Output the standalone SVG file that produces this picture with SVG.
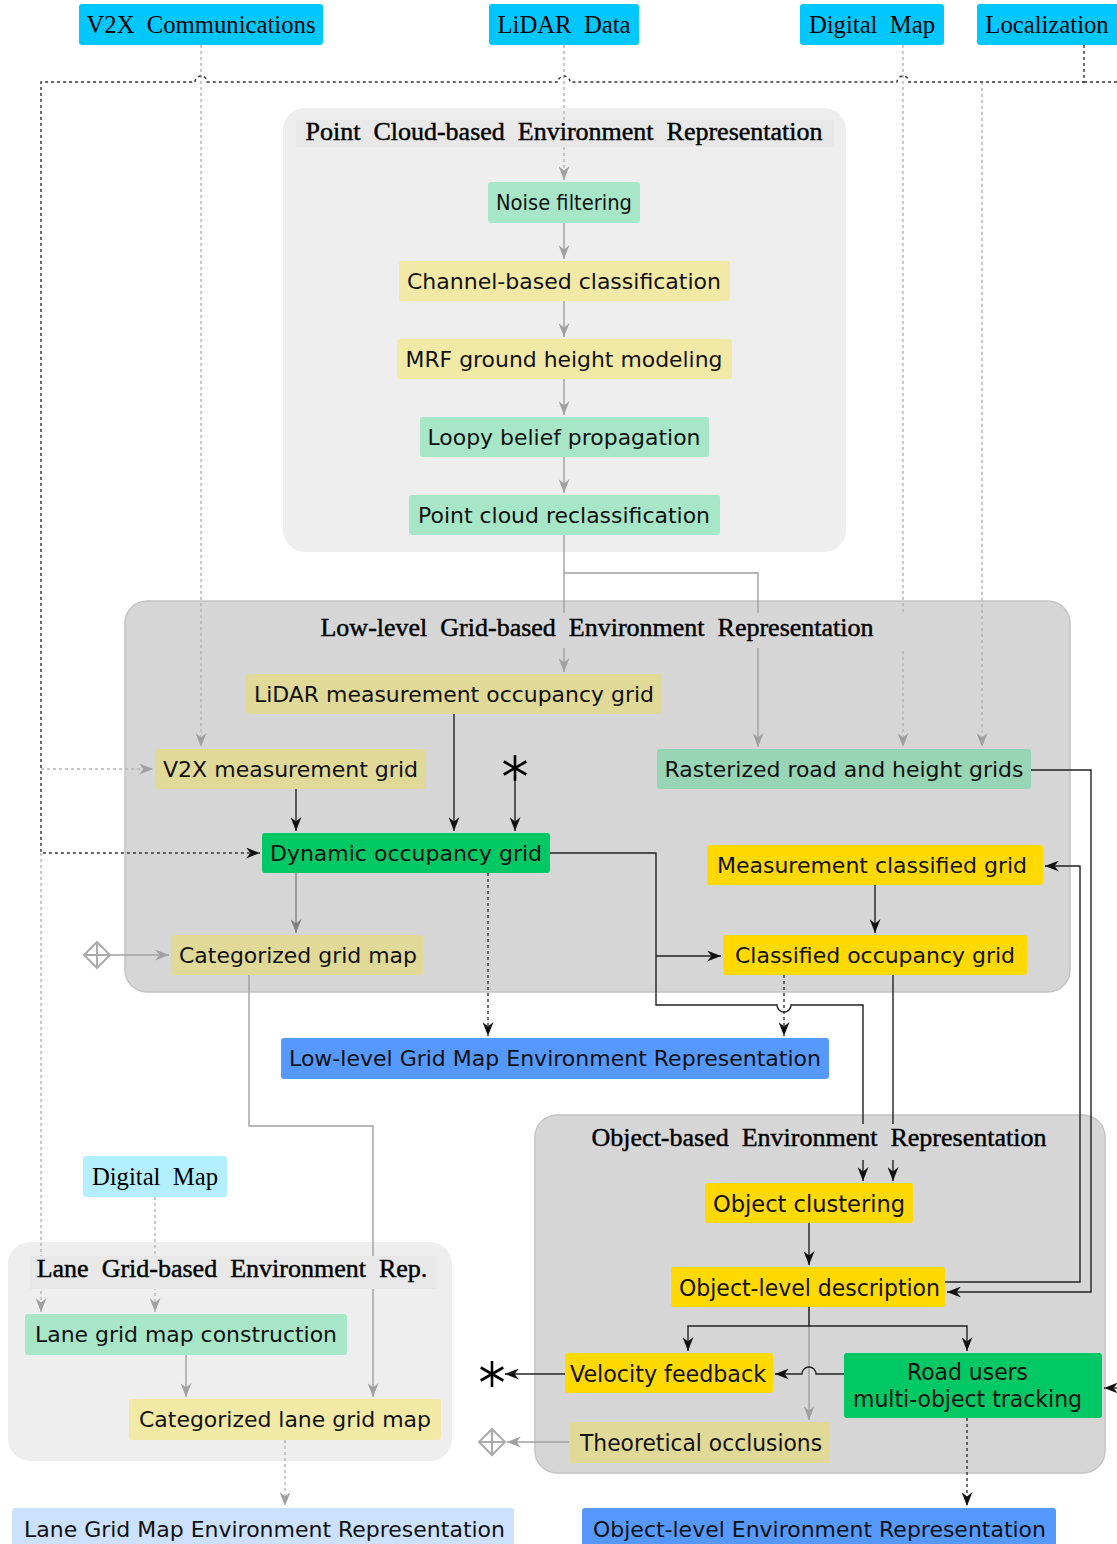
<svg xmlns="http://www.w3.org/2000/svg" width="1117" height="1544" viewBox="0 0 1117 1544">
<defs>
<style>
.serif{font-family:"Liberation Serif","Times New Roman",serif;fill:#000;text-anchor:middle;white-space:pre}
.tt{font-size:26px;stroke:#000;stroke-width:0.45}
.src{font-size:24.7px}
.sans{font-family:"DejaVu Sans","Noto Sans",sans-serif;fill:#111;text-anchor:middle}
.s1{font-size:20.5px}
.s2{font-size:23.5px}
.s3{font-size:22px}
.cn{fill:none;stroke-width:1.4}
.blk{stroke:#222}
.gry{stroke:#a0a0a0}
.dgr{stroke:#808080}
.ddash{stroke:#333;stroke-dasharray:3 3}
.ldash{stroke:#b4b4b4;stroke-dasharray:3 3}
.cyan{fill:#00c8ff}
.lgreen{fill:#a8e6c8}
.pyel{fill:#f3e9a6}
.khaki{fill:#e1d998}
.mgreen{fill:#98d5b5}
.bgreen{fill:#00c865}
.gold{fill:#ffd900}
.blue{fill:#5599ff}
.lblue{fill:#cce0ff}
.lcyan{fill:#b3efff}
</style>
<marker id="mb" viewBox="0 0 14 11" refX="14" refY="5.5" markerWidth="14" markerHeight="11" markerUnits="userSpaceOnUse" orient="auto"><path d="M0,0 L14,5.5 L0,11 L4.5,5.5 z" fill="#111"/></marker>
<marker id="mg" viewBox="0 0 14 11" refX="14" refY="5.5" markerWidth="14" markerHeight="11" markerUnits="userSpaceOnUse" orient="auto"><path d="M0,0 L14,5.5 L0,11 L4.5,5.5 z" fill="#a0a0a0"/></marker>
<marker id="md" viewBox="0 0 14 11" refX="14" refY="5.5" markerWidth="14" markerHeight="11" markerUnits="userSpaceOnUse" orient="auto"><path d="M0,0 L14,5.5 L0,11 L4.5,5.5 z" fill="#808080"/></marker>
</defs>
<rect width="1117" height="1544" fill="#fff"/>

<!-- panels -->
<g id="panel-pointcloud"><rect x="283" y="108" width="563" height="444" rx="22" fill="#eeeeee"/></g>
<g id="panel-lowlevel"><rect x="125" y="601" width="945" height="391" rx="22" fill="#d6d6d6" stroke="#c4c4c4" stroke-width="1.5"/></g>
<g id="panel-object"><rect x="535" y="1115" width="570" height="358" rx="22" fill="#d6d6d6" stroke="#c4c4c4" stroke-width="1.5"/></g>
<g id="panel-lane"><rect x="8" y="1242" width="444" height="219" rx="22" fill="#eeeeee"/></g>

<!-- connectors -->
<g id="connectors">
<path class="cn ldash" d="M201,45 V747" marker-end="url(#mg)"/>
<path class="cn ldash" d="M564,45 V180" marker-end="url(#mg)"/>
<path class="cn ldash" d="M903,45 V747" marker-end="url(#mg)"/>
<path class="cn ldash" d="M982,82 V747" marker-end="url(#mg)"/>
<path class="cn ddash" d="M1084,45 V82 H909 A6,6 0 0 0 897,82 H570 A6,6 0 0 0 558,82 H207 A6,6 0 0 0 195,82 H41 V853 H260" marker-end="url(#mb)"/>
<path class="cn ddash" d="M1084,82 H1117"/>
<path class="cn ldash" d="M41,769 H153" marker-end="url(#mg)"/>
<path class="cn ldash" d="M41,853 V1312" marker-end="url(#mg)"/>
<path class="cn ddash" d="M1117,1388 H1104" marker-end="url(#mb)"/>

<path class="cn gry" d="M564,223 V259" marker-end="url(#mg)"/>
<path class="cn gry" d="M564,301 V337" marker-end="url(#mg)"/>
<path class="cn gry" d="M564,379 V415" marker-end="url(#mg)"/>
<path class="cn gry" d="M564,457 V493" marker-end="url(#mg)"/>
<path class="cn gry" d="M564,535 V672" marker-end="url(#mg)"/>
<path class="cn gry" d="M564,573 H758 V747" marker-end="url(#mg)"/>

<path class="cn blk" d="M454,714 V831" marker-end="url(#mb)"/>
<path class="cn blk" d="M296,789 V831" marker-end="url(#mb)"/>
<path class="cn blk" d="M515,780 V831" marker-end="url(#mb)"/>
<path class="cn dgr" d="M296,873 V933" marker-end="url(#md)"/>
<path class="cn ddash" d="M488,873 V1036" marker-end="url(#mb)"/>
<path class="cn blk" d="M550,853 H656 V1005 H777 A7,7 0 0 0 791,1005 H863 V1181" marker-end="url(#mb)"/>
<path class="cn blk" d="M656,956 H721" marker-end="url(#mb)"/>
<path class="cn blk" d="M875,885 V933" marker-end="url(#mb)"/>
<path class="cn blk" d="M893,975 V1181" marker-end="url(#mb)"/>
<path class="cn ddash" d="M784,975 V1036" marker-end="url(#mb)"/>
<path class="cn gry" d="M110,955 H169" marker-end="url(#mg)"/>
<path class="cn blk" d="M1031,770 H1091 V1292 H947" marker-end="url(#mb)"/>
<path class="cn blk" d="M945,1282 H1080 V866 H1045" marker-end="url(#mb)"/>

<path class="cn gry" d="M249,975 V1126 H373 V1397" marker-end="url(#mg)"/>
<path class="cn ldash" d="M155,1197 V1312" marker-end="url(#mg)"/>
<path class="cn gry" d="M186,1355 V1397" marker-end="url(#mg)"/>
<path class="cn ldash" d="M285,1440 V1506" marker-end="url(#mg)"/>

<path class="cn blk" d="M809,1223 V1265" marker-end="url(#mb)"/>
<path class="cn gry" d="M809,1307 V1420" marker-end="url(#mg)"/>
<path class="cn blk" d="M809,1307 V1326 H688 V1351" marker-end="url(#mb)"/>
<path class="cn blk" d="M809,1326 H967 V1351" marker-end="url(#mb)"/>
<path class="cn blk" d="M844,1374 H816 A7,7 0 0 0 802,1374 H775" marker-end="url(#mb)"/>
<path class="cn blk" d="M565,1374 H505" marker-end="url(#mb)"/>
<path class="cn gry" d="M569,1442 H507" marker-end="url(#mg)"/>
<path class="cn ddash" d="M967,1418 V1506" marker-end="url(#mb)"/>
</g>

<!-- panel titles -->
<g id="title-pointcloud"><rect x="296" y="120" width="538" height="27" fill="#e8e8e8"/><text class="serif tt" x="564" y="140">Point  Cloud-based  Environment  Representation</text></g>
<g id="title-lowlevel"><rect x="305" y="613" width="601" height="35" fill="#d6d6d6"/><text class="serif tt" x="597" y="636">Low-level  Grid-based  Environment  Representation</text></g>
<g id="title-object"><rect x="580" y="1124" width="478" height="36" fill="#d6d6d6"/><text class="serif tt" x="819" y="1146">Object-based  Environment  Representation</text></g>
<g id="title-lane"><rect x="30" y="1256" width="406" height="33" fill="#e8e8e8"/><text class="serif tt" x="232" y="1277">Lane  Grid-based  Environment  Rep.</text></g>

<!-- symbols -->
<g id="star-top" stroke="#000" stroke-width="2.6"><line x1="515" y1="755" x2="515" y2="781"/><line x1="503.7" y1="761.5" x2="526.3" y2="774.5"/><line x1="503.7" y1="774.5" x2="526.3" y2="761.5"/></g>
<g id="star-bottom" stroke="#000" stroke-width="2.6"><line x1="492" y1="1361" x2="492" y2="1387"/><line x1="480.7" y1="1367.5" x2="503.3" y2="1380.5"/><line x1="480.7" y1="1380.5" x2="503.3" y2="1367.5"/></g>
<g id="diamond-top" stroke="#aaa" stroke-width="2" fill="none"><polygon points="97,942 110,955 97,968 84,955"/><line x1="97" y1="942" x2="97" y2="968"/><line x1="84" y1="955" x2="110" y2="955"/></g>
<g id="diamond-bottom" stroke="#aaa" stroke-width="2" fill="none"><polygon points="492,1429 505,1442 492,1455 479,1442"/><line x1="492" y1="1429" x2="492" y2="1455"/><line x1="479" y1="1442" x2="505" y2="1442"/></g>

<!-- source nodes -->
<g id="n-v2x"><rect class="cyan" x="79" y="4" width="244" height="41" rx="3"/><text class="serif src" x="201" y="33">V2X  Communications</text></g>
<g id="n-lidar"><rect class="cyan" x="489" y="4" width="150" height="41" rx="3"/><text class="serif src" x="564" y="33">LiDAR  Data</text></g>
<g id="n-dmap"><rect class="cyan" x="800" y="4" width="144" height="41" rx="3"/><text class="serif src" x="872" y="33">Digital  Map</text></g>
<g id="n-loc"><rect class="cyan" x="977" y="4" width="145" height="41" rx="3"/><text class="serif src" x="1047" y="33">Localization</text></g>

<!-- point cloud nodes -->
<g id="n-noise"><rect class="lgreen" x="488" y="182" width="152" height="41" rx="3"/><text class="sans s1" x="564" y="210" textLength="136" lengthAdjust="spacingAndGlyphs">Noise filtering</text></g>
<g id="n-channel"><rect class="pyel" x="399" y="261" width="331" height="40" rx="3"/><text class="sans s1" x="564" y="288.5" textLength="314" lengthAdjust="spacingAndGlyphs">Channel-based classification</text></g>
<g id="n-mrf"><rect class="pyel" x="397" y="339" width="335" height="40" rx="3"/><text class="sans s1" x="564" y="366.5" textLength="317" lengthAdjust="spacingAndGlyphs">MRF ground height modeling</text></g>
<g id="n-loopy"><rect class="lgreen" x="420" y="417" width="289" height="40" rx="3"/><text class="sans s1" x="564" y="444.5" textLength="273" lengthAdjust="spacingAndGlyphs">Loopy belief propagation</text></g>
<g id="n-reclass"><rect class="lgreen" x="409" y="495" width="311" height="40" rx="3"/><text class="sans s1" x="564" y="522.5" textLength="292" lengthAdjust="spacingAndGlyphs">Point cloud reclassification</text></g>

<!-- low-level nodes -->
<g id="n-lidarocc"><rect class="khaki" x="246" y="674" width="416" height="40" rx="3"/><text class="sans s1" x="454" y="701.5" textLength="400" lengthAdjust="spacingAndGlyphs">LiDAR measurement occupancy grid</text></g>
<g id="n-v2xgrid"><rect class="khaki" x="155" y="749" width="271" height="40" rx="3"/><text class="sans s1" x="290.5" y="776.5" textLength="255" lengthAdjust="spacingAndGlyphs">V2X measurement grid</text></g>
<g id="n-raster"><rect class="mgreen" x="657" y="749" width="374" height="40" rx="3"/><text class="sans s1" x="844" y="776.5" textLength="359" lengthAdjust="spacingAndGlyphs">Rasterized road and height grids</text></g>
<g id="n-dynamic"><rect class="bgreen" x="262" y="833" width="288" height="40" rx="3"/><text class="sans s1" x="406" y="860.5" textLength="272" lengthAdjust="spacingAndGlyphs">Dynamic occupancy grid</text></g>
<g id="n-measclass"><rect class="gold" x="707" y="845" width="336" height="40" rx="3"/><text class="sans s1" x="872" y="872.5" textLength="310" lengthAdjust="spacingAndGlyphs">Measurement classified grid</text></g>
<g id="n-catgrid"><rect class="khaki" x="171" y="935" width="252" height="40" rx="3"/><text class="sans s1" x="298" y="962.5" textLength="238" lengthAdjust="spacingAndGlyphs">Categorized grid map</text></g>
<g id="n-classocc"><rect class="gold" x="723" y="935" width="304" height="40" rx="3"/><text class="sans s1" x="875" y="962.5" textLength="280" lengthAdjust="spacingAndGlyphs">Classified occupancy grid</text></g>
<g id="n-llrep"><rect class="blue" x="281" y="1038" width="548" height="41" rx="3"/><text class="sans s1" x="555" y="1066" textLength="532" lengthAdjust="spacingAndGlyphs">Low-level Grid Map Environment Representation</text></g>

<!-- object nodes -->
<g id="n-cluster"><rect class="gold" x="705" y="1183" width="208" height="40" rx="3"/><text class="sans s2" x="809" y="1211.5" textLength="192" lengthAdjust="spacingAndGlyphs">Object clustering</text></g>
<g id="n-objdesc"><rect class="gold" x="671" y="1267" width="274" height="40" rx="3"/><text class="sans s2" x="809.5" y="1295.5" textLength="261" lengthAdjust="spacingAndGlyphs">Object-level description</text></g>
<g id="n-velocity"><rect class="gold" x="565" y="1353" width="208" height="40" rx="3"/><text class="sans s2" x="668" y="1381.5" textLength="196" lengthAdjust="spacingAndGlyphs">Velocity feedback</text></g>
<g id="n-tracking"><rect class="bgreen" x="844" y="1353" width="258" height="65" rx="3"/><text class="sans s2" x="967.5" y="1380" textLength="121" lengthAdjust="spacingAndGlyphs">Road users</text><text class="sans s2" x="967.5" y="1407" textLength="229" lengthAdjust="spacingAndGlyphs">multi-object tracking</text></g>
<g id="n-occl"><rect class="khaki" x="569" y="1422" width="261" height="41" rx="3"/><text class="sans s2" x="701" y="1451" textLength="242" lengthAdjust="spacingAndGlyphs">Theoretical occlusions</text></g>
<g id="n-objrep"><rect class="blue" x="582" y="1508" width="474" height="45" rx="3"/><text class="sans s3" x="819.5" y="1537" textLength="453" lengthAdjust="spacingAndGlyphs">Object-level Environment Representation</text></g>

<!-- lane nodes -->
<g id="n-dmap2"><rect class="lcyan" x="83" y="1156" width="144" height="41" rx="3"/><text class="serif src" x="155" y="1185">Digital  Map</text></g>
<g id="n-lanecon"><rect class="lgreen" x="25" y="1314" width="322" height="41" rx="3"/><text class="sans s3" x="186" y="1342" textLength="302" lengthAdjust="spacingAndGlyphs">Lane grid map construction</text></g>
<g id="n-catlane"><rect class="pyel" x="129" y="1399" width="312" height="41" rx="3"/><text class="sans s3" x="285" y="1427" textLength="292" lengthAdjust="spacingAndGlyphs">Categorized lane grid map</text></g>
<g id="n-lanerep"><rect class="lblue" x="12" y="1508" width="502" height="45" rx="3"/><text class="sans s3" x="264.5" y="1537" textLength="481" lengthAdjust="spacingAndGlyphs">Lane Grid Map Environment Representation</text></g>
</svg>
